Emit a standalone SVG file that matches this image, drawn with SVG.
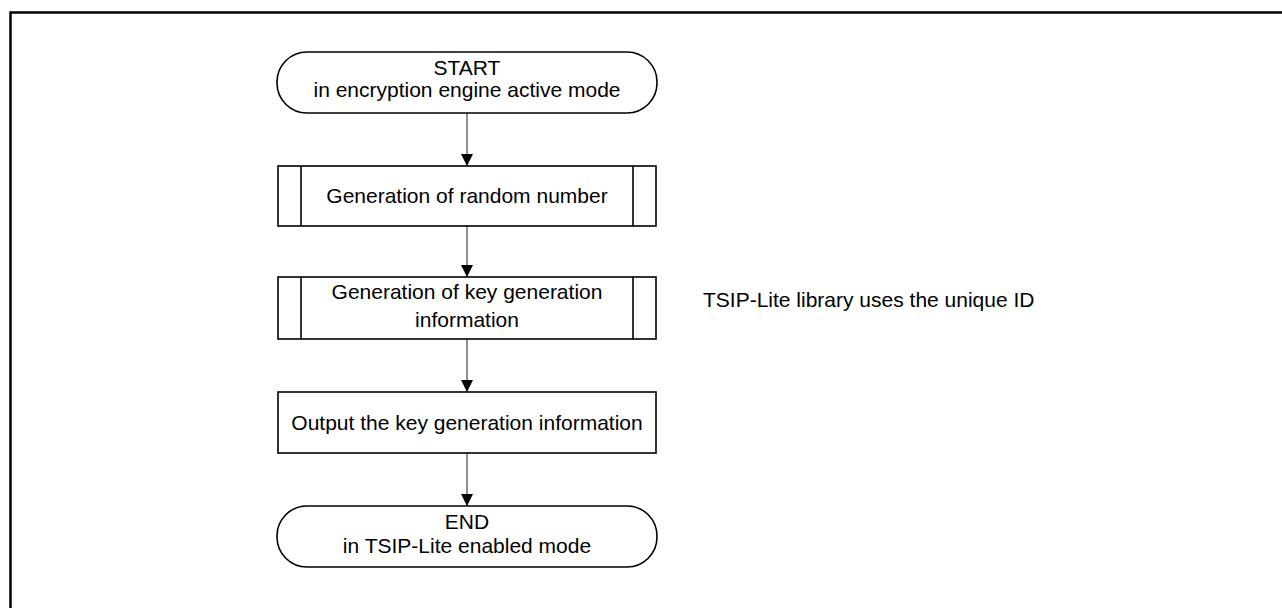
<svg xmlns="http://www.w3.org/2000/svg" width="1282" height="608" viewBox="0 0 1282 608">
<defs>
<style>
.frame{fill:none;stroke:#000;stroke-width:2.5}
.shape{fill:#fff;stroke:#000;stroke-width:1.6}
.conn{fill:none;stroke:#444;stroke-width:1.2}
text{font-family:"Liberation Sans",Arial,sans-serif;font-size:21px;fill:#000}
.c{text-anchor:middle}
</style>
<marker id="ah" markerWidth="12" markerHeight="12" viewBox="0 0 12 12" refX="12" refY="6" orient="auto" markerUnits="userSpaceOnUse">
<path d="M0,0 L12,6 L0,12 Z" fill="#000"/>
</marker>
</defs>
<rect width="1282" height="608" fill="#fff"/>
<rect class="frame" x="10.5" y="12.5" width="1400" height="800"/>
<g id="connectors">
<line class="conn" x1="467" y1="113" x2="467" y2="166" marker-end="url(#ah)"/>
<line class="conn" x1="467" y1="226" x2="467" y2="277" marker-end="url(#ah)"/>
<line class="conn" x1="467" y1="339" x2="467" y2="392" marker-end="url(#ah)"/>
<line class="conn" x1="467" y1="453" x2="467" y2="506" marker-end="url(#ah)"/>
</g>
<g id="start">
<rect class="shape" x="277" y="52" width="380" height="61" rx="30" ry="30"/>
<text class="c" x="467" y="75">START</text>
<text class="c" x="467" y="97">in encryption engine active mode</text>
</g>
<g id="random">
<rect class="shape" x="278" y="166" width="378" height="60"/>
<line class="shape" x1="301" y1="166" x2="301" y2="226"/>
<line class="shape" x1="633" y1="166" x2="633" y2="226"/>
<text class="c" x="467" y="203">Generation of random number</text>
</g>
<g id="keygen">
<rect class="shape" x="278" y="277" width="378" height="62"/>
<line class="shape" x1="301" y1="277" x2="301" y2="339"/>
<line class="shape" x1="633" y1="277" x2="633" y2="339"/>
<text class="c" x="467" y="299">Generation of key generation</text>
<text class="c" x="467" y="327">information</text>
</g>
<g id="output">
<rect class="shape" x="278" y="392" width="378" height="61"/>
<text class="c" x="467" y="430">Output the key generation information</text>
</g>
<g id="end">
<rect class="shape" x="277" y="506" width="380" height="61" rx="30" ry="30"/>
<text class="c" x="467" y="529">END</text>
<text class="c" x="467" y="553">in TSIP-Lite enabled mode</text>
</g>
<g id="note">
<text x="703" y="307">TSIP-Lite library uses the unique ID</text>
</g>
</svg>
